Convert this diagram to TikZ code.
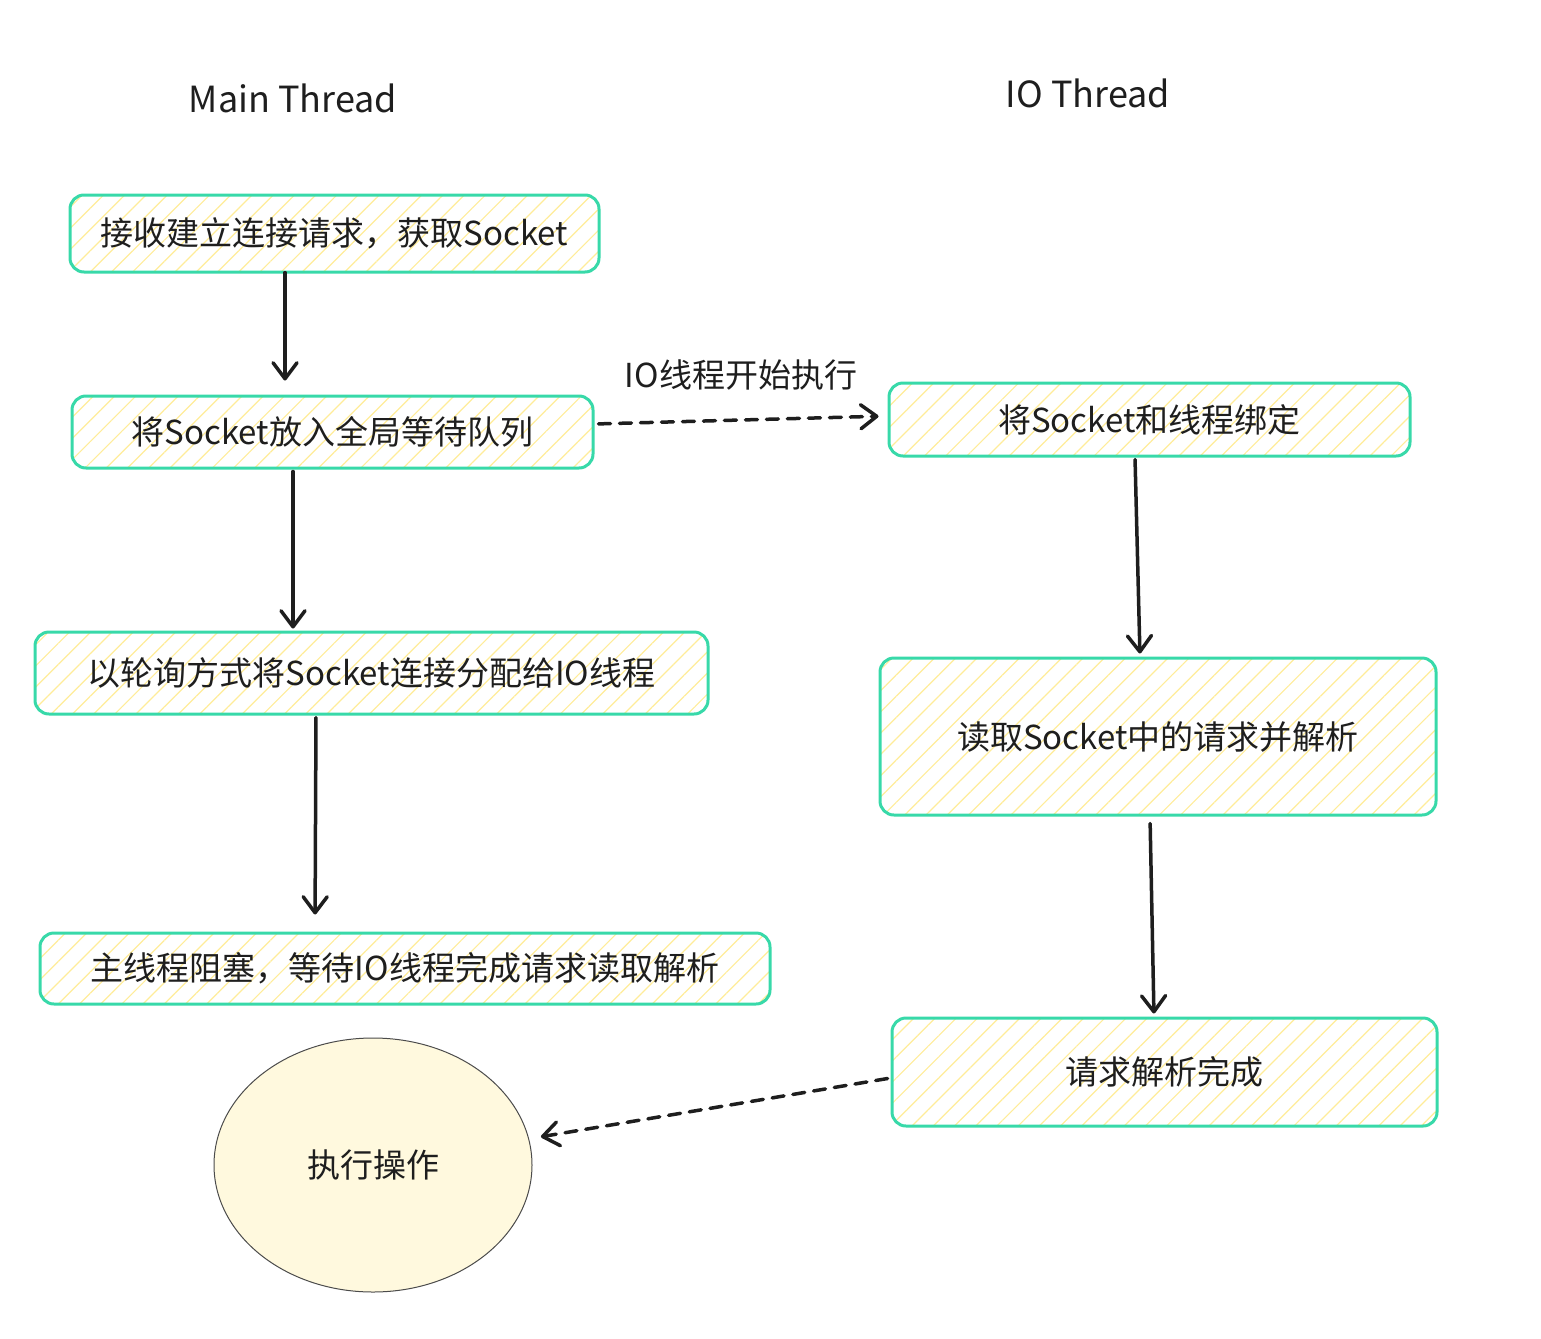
\documentclass[tikz,border=0pt]{standalone}
\usepackage{fontspec}
\setmainfont{Noto Sans CJK SC}
\usetikzlibrary{arrows.meta,patterns.meta,shapes.geometric}
\definecolor{ink}{RGB}{30,30,30}
\definecolor{rim}{RGB}{56,217,169}
\definecolor{hatch}{RGB}{255,236,153}
\begin{document}
\begin{tikzpicture}[x=1pt, y=-1pt,
	every node/.style={text=ink, font=\fontsize{33}{40}\selectfont},
	head/.style={font=\fontsize{36}{42}\selectfont},
	box/.style={draw=rim, line width=3pt, rounded corners=14pt,
		pattern={Lines[angle=45,distance=15pt,line width=1.2pt]}, pattern color=hatch},
	blob/.style={ellipse, draw=ink!80, line width=1pt, fill=hatch!32},
	arr/.style={draw=ink, line width=3.5pt, line cap=round,
		-{Straight Barb[length=16pt, width=24pt, line width=3.5pt, round]}},
	dasharr/.style={arr, dash pattern=on 12pt off 9pt}]
	\useasboundingbox (0,0) rectangle (1541,1338);

	%% Ueberschriften
	\node[head] (mainhead) at (293,98) {Main Thread};
	\node[head] (iohead) at (1088,93) {IO Thread};

	%% Main Thread
\begin{scope}
	\node[box, minimum width=529pt, minimum height=77pt] (accept) at (334.5,233.5) {接收建立连接请求，获取Socket};
	\node[box, minimum width=521pt, minimum height=72pt] (queue) at (332.5,432) {将Socket放入全局等待队列};
	\node[box, minimum width=673pt, minimum height=82pt] (assign) at (371.5,673) {以轮询方式将Socket连接分配给IO线程};
	\node[box, minimum width=730pt, minimum height=71pt] (block) at (405,968.5) {主线程阻塞，等待IO线程完成请求读取解析};
	\node[blob, minimum width=318pt, minimum height=254pt] (exec) at (373,1165) {执行操作};

	\draw[arr, shorten >=14pt] ([xshift=-49.5pt]accept.south) -- ([xshift=-47.5pt]queue.north);
	\draw[arr, shorten <=2pt, shorten >=2pt] ([xshift=-39.5pt]queue.south) -- ([xshift=-78.5pt]assign.north);
	\draw[arr, shorten <=2pt, shorten >=17pt] ([xshift=-55.5pt]assign.south) -- ([xshift=-90pt]block.north);
\end{scope}

	%% IO Thread
\begin{scope}
	\node[box, minimum width=521pt, minimum height=73pt] (bind) at (1149.5,419.5) {将Socket和线程绑定};
	\node[box, minimum width=556pt, minimum height=157pt] (read) at (1158,736.5) {读取Socket中的请求并解析};
	\node[box, minimum width=545pt, minimum height=108pt] (done) at (1164.5,1072) {请求解析完成};

	\draw[arr, shorten <=2pt, shorten >=3pt] ([xshift=-14.5pt]bind.south) -- ([xshift=-18pt]read.north);
	\draw[arr, shorten <=7pt, shorten >=3pt] ([xshift=-8pt]read.south) -- ([xshift=-10.5pt]done.north);
\end{scope}

	%% Uebergaenge
	\draw[dasharr, shorten <=4pt, shorten >=9pt] ([yshift=8pt]queue.east) -- ([yshift=3.5pt]bind.west)
	node[midway, above=25pt] (startlbl) {IO线程开始执行};
	\draw[dasharr, shorten <=3pt, shorten >=12pt] ([yshift=-6pt]done.west) -- (exec);

\end{tikzpicture}
\end{document}
